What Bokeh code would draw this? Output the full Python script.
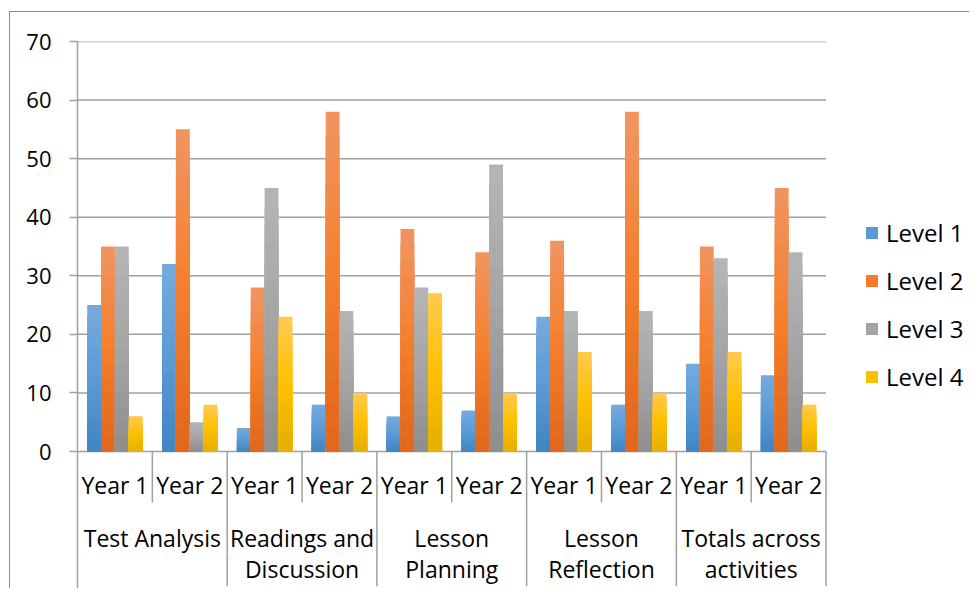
from bokeh.plotting import figure
from bokeh.models import (ColumnDataSource, FixedTicker, Legend, LegendItem,
                          Range1d)
from bokeh.core.properties import value
from bokeh.embed import file_html
from bokeh.resources import INLINE

# ---------------- data ----------------
GROUPS = ["Test Analysis", "Readings and\nDiscussion", "Lesson\nPlanning",
          "Lesson\nReflection", "Totals across\nactivities"]
YEARS = ["Year 1", "Year 2"]
SERIES = ["Level 1", "Level 2", "Level 3", "Level 4"]
# order: TA Y1, TA Y2, RD Y1, RD Y2, LP Y1, LP Y2, LR Y1, LR Y2, TOT Y1, TOT Y2
LEVEL1 = [25, 32, 4, 8, 6, 7, 23, 8, 15, 13]
LEVEL2 = [35, 55, 28, 58, 38, 34, 36, 58, 35, 45]
LEVEL3 = [35, 5, 45, 24, 28, 49, 24, 24, 33, 34]
LEVEL4 = [6, 8, 23, 10, 27, 10, 17, 10, 17, 8]
Y_TICKS = [0, 10, 20, 30, 40, 50, 60, 70]

# ---------------- style ----------------
FONT = "Open Sans"
FS_TICK = "22px"
FS_CAT = "23px"
FS_LEG = "24px"
GRID = "#a0a0a0"
GRAD = {  # top, middle, bottom colours of each series' gradient
    "Level 1": ("#74a9de", "#5b9bd5", "#4286c6"),
    "Level 2": ("#f1935f", "#f47f2c", "#e2681b"),
    "Level 3": ("#b4b4b4", "#a5a5a5", "#8f8f8f"),
    "Level 4": ("#ffca4a", "#ffc000", "#e6b000"),
}
BAR_W = 0.185
N_LAYERS = 14
X_END = 11.93          # extra room on the right of the plot for the legend
YEAR_TICK_DEPTH = -8.7
GROUP_TICK_DEPTH = -23.0
Y_YEAR_LABEL = -5.8
Y_GROUP_LINE1 = -14.7
Y_GROUP_LINE2 = -20.1


def hex2rgb(h):
    h = h.lstrip("#")
    return tuple(int(h[i:i + 2], 16) for i in (0, 2, 4))


def mix(c1, c2, t):
    a, b = hex2rgb(c1), hex2rgb(c2)
    return "#%02x%02x%02x" % tuple(round(a[i] + (b[i] - a[i]) * t) for i in range(3))


def grad_color(stops, t):  # t=0 top, t=1 bottom
    if t < 0.5:
        return mix(stops[0], stops[1], t / 0.5)
    return mix(stops[1], stops[2], (t - 0.5) / 0.5)


n_slots = len(GROUPS) * len(YEARS)
slot_centers = [i + 0.5 for i in range(n_slots)]

p = figure(width=960, height=577, output_backend="svg", toolbar_location=None,
           x_range=Range1d(0, X_END), y_range=Range1d(-23.56, 70),
           x_axis_location=None, min_border_left=67, min_border_right=0,
           min_border_top=29, min_border_bottom=0)
p.outline_line_color = None
p.xgrid.visible = False
p.ygrid.visible = False
p.background_fill_color = "white"
p.border_fill_color = "white"
p.styles = {"margin-left": "9px", "margin-top": "11px",
            "border-top": "1.5px solid #8c8c8c", "border-left": "1.5px solid #8c8c8c"}

# y axis
yax = p.yaxis[0]
yax.ticker = FixedTicker(ticks=Y_TICKS)
yax.axis_line_color = GRID
yax.axis_line_width = 1.5
yax.major_tick_line_color = GRID
yax.major_tick_line_width = 1.5
yax.major_tick_out = 8
yax.major_tick_in = 0
yax.minor_tick_line_color = None
yax.major_label_standoff = 18
yax.major_label_text_font = FONT
yax.major_label_text_font_size = FS_TICK
yax.major_label_text_color = "black"

# horizontal gridlines, limited to the category area
p.segment(x0=[0] * len(Y_TICKS), x1=[n_slots] * len(Y_TICKS), y0=Y_TICKS, y1=Y_TICKS,
          line_color=GRID, line_width=1.5)

# bars with vertical gradient (stacked layers drawn from data)
legend_items = []
series_vals = [LEVEL1, LEVEL2, LEVEL3, LEVEL4]
for s, (name, vals) in enumerate(zip(SERIES, series_vals)):
    xs = [c + (s - 1.5) * BAR_W for c in slot_centers]
    mid_r = None
    for k in range(N_LAYERS):
        frac = 1 - k / N_LAYERS
        src = ColumnDataSource(dict(x=xs, top=[v * frac for v in vals]))
        col = grad_color(GRAD[name], k / (N_LAYERS - 1))
        r = p.vbar(x="x", top="top", bottom=0, width=BAR_W, source=src,
                   fill_color=col, line_color=None)
        if k == N_LAYERS // 2:
            mid_r = r
    legend_items.append(LegendItem(label=name, renderers=[mid_r]))

# category separators
year_sep = [i * 2 + 1 for i in range(len(GROUPS))]
group_sep = [i * 2 for i in range(1, len(GROUPS) + 1)]
p.segment(x0=year_sep, x1=year_sep, y0=[0] * len(year_sep),
          y1=[YEAR_TICK_DEPTH] * len(year_sep), line_color=GRID, line_width=1.5)
p.segment(x0=group_sep, x1=group_sep, y0=[0] * len(group_sep),
          y1=[GROUP_TICK_DEPTH] * len(group_sep), line_color=GRID, line_width=1.5)

# category labels
year_labels = [YEARS[i % 2] for i in range(n_slots)]
p.text(x=slot_centers, y=[Y_YEAR_LABEL] * n_slots, text=year_labels,
       text_font=value(FONT), text_font_size=FS_CAT, text_color="black",
       text_align="center", text_baseline="middle")
g_centers = [i * 2 + 1 for i in range(len(GROUPS))]
line1 = [g.split("\n")[0] for g in GROUPS]
line2 = [g.split("\n")[1] if "\n" in g else "" for g in GROUPS]
p.text(x=g_centers, y=[Y_GROUP_LINE1] * len(GROUPS), text=line1,
       text_font=value(FONT), text_font_size=FS_CAT, text_color="black",
       text_align="center", text_baseline="middle")
p.text(x=g_centers, y=[Y_GROUP_LINE2] * len(GROUPS), text=line2,
       text_font=value(FONT), text_font_size=FS_CAT, text_color="black",
       text_align="center", text_baseline="middle")

# legend (inside the right part of the plotting area)
legend = Legend(items=legend_items, location=(787, 196), orientation="vertical")
legend.glyph_width = 15
legend.glyph_height = 15
legend.label_text_font = FONT
legend.label_text_font_size = FS_LEG
legend.label_text_color = "black"
legend.label_standoff = 7
legend.label_height = 26
legend.spacing = 15
legend.padding = 0
legend.margin = 0
legend.border_line_color = None
legend.background_fill_alpha = 0
p.add_layout(legend)

open("out.html", "w").write(file_html(p, INLINE))
